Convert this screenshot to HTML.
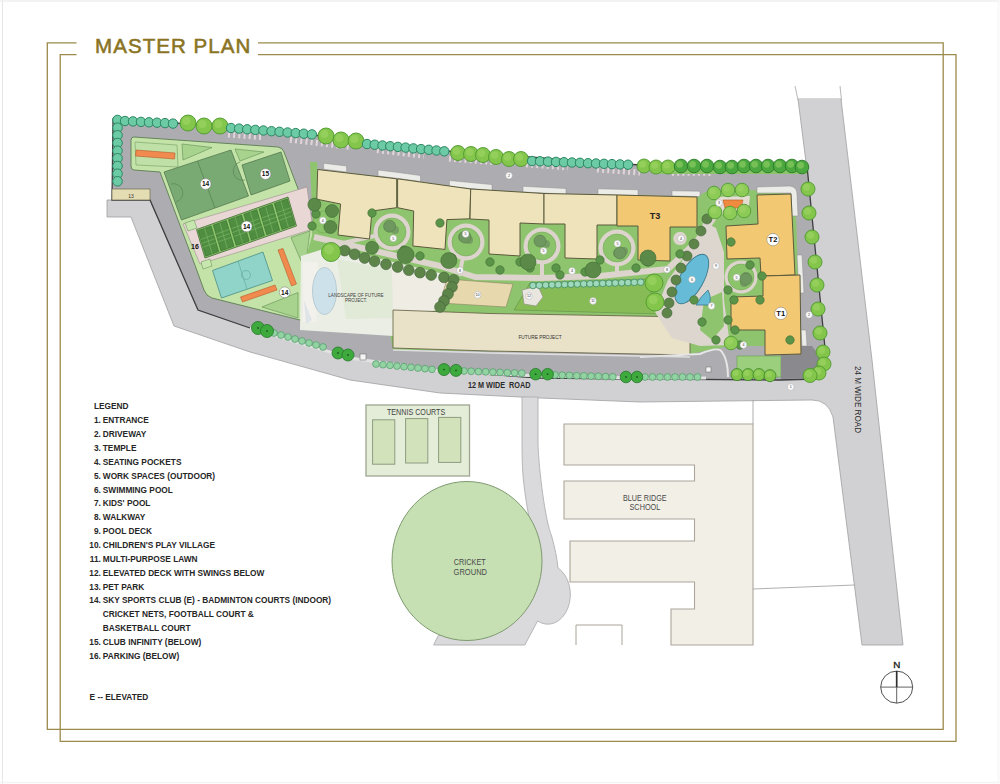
<!DOCTYPE html>
<html><head><meta charset="utf-8">
<style>
html,body{margin:0;padding:0;background:#fff;}
body{width:1000px;height:784px;overflow:hidden;position:relative;font-family:"Liberation Sans",sans-serif;}
svg{position:absolute;left:0;top:0;}
.lg{position:absolute;left:0;top:0;font-size:8.4px;font-weight:bold;color:#262626;line-height:13.8px;white-space:nowrap;}
.lg div{position:absolute;}
</style></head><body>
<svg width="1000" height="784" viewBox="0 0 1000 784" font-family="Liberation Sans, sans-serif">
<!-- page edge -->
<line x1="2.5" y1="0" x2="2.5" y2="784" stroke="#e6e6e6" stroke-width="1"/>
<line x1="0" y1="1" x2="1000" y2="1" stroke="#efefef" stroke-width="1.5"/>
<line x1="0" y1="782.5" x2="1000" y2="782.5" stroke="#f4f4f4" stroke-width="1.5"/>
<line x1="998.5" y1="0" x2="998.5" y2="784" stroke="#f8f8f8" stroke-width="2"/>
<!-- frame -->
<g fill="none" stroke="#9c8a4c" stroke-width="1.3">
<polyline points="76.5,42.8 47.3,42.8 47.3,729.3 943.2,729.3 943.2,42.8 258,42.8"/>
<polyline points="76.5,54.6 60.2,54.6 60.2,741.3 956,741.3 956,54.6 258,54.6"/>
</g>
<text x="95.1" y="52.7" fill="#8a7424" stroke="#8a7424" stroke-width="0.55" font-size="20.5" letter-spacing="1.05">MASTER PLAN</text>

<!-- ROADS -->
<g id="roads">
<!-- 24M road top cut lines -->
<line x1="795" y1="86" x2="798" y2="100" stroke="#b8b8ba" stroke-width="1"/>
<line x1="840" y1="86" x2="841.5" y2="100" stroke="#b8b8ba" stroke-width="1"/>
<path id="lroad" fill="#d1d1d3" stroke="#a0a0a2" stroke-width="0.8" d="M107,200 L150,200 L198,310 L250,328 L350,358 L440,371 L540,378 L640,379 L780,380 L820,378 L806,162 L798,99 L841,99 L872,360 L903,645 L862,645 L833,417 Q828,400 812,400 L640,402 L540,398 L440,393 L350,380 L250,352 L174,326 L131,217 L107,217 Z"/>
<line x1="798.6" y1="99.4" x2="840.6" y2="99.4" stroke="#d1d1d3" stroke-width="1.2"/>
<!-- lower road to school -->
<path fill="#dadadc" stroke="#b0b0b2" stroke-width="0.9" d="M522,397 L538,397 L538,445 C539,470 545,520 551.6,536 C555,548 557,558 558,568 A20.5,27 0 1 1 537.6,621 L524.8,645 L433.6,645 L438,636 L480,610 L520,590 C530,580 536,572 540,564 C536,548 528,520 524,485 C522,470 522,450 522,440 Z"/>
</g>


<g id="site">
<!-- base driveway -->
<path fill="#acacb1" stroke="#3e3e40" stroke-width="1.3" d="M113,119 L182,123.5 L280,131 L452,151.5 L640,165 L807,166 L825,348 L825,365 L816,379 L780,380 L640,379 L540,378 L440,371 L350,358 L250,328 L198,310 L150,200 L112,200 Z"/>
<!-- pet park 13 -->
<rect x="112" y="189" width="38" height="11" fill="#e4dcb2" stroke="#6d6a50" stroke-width="0.7"/>
<text x="131" y="197.5" text-anchor="middle" font-size="5" fill="#333">13</text>

<!-- SPORTS PLOT -->
<path fill="#c3e3a8" stroke="#5d7d52" stroke-width="0.9" d="M134,137 L278,147 Q283,148 284,152 L313,228 L315,316 Q315,323 308,322 L212,298 Q206,296 204,290 L196,268 L160,172 L134,170 Q131,170 131,166 L131,140 Q131,137 134,137 Z"/>
<!-- cricket nets box -->
<path fill="#bfe0a6" stroke="#7fa86f" stroke-width="0.7" d="M135,142 L177,145 L178,167 L136,165 Z"/>
<path fill="#f08a4e" stroke="#b85a2a" stroke-width="0.6" d="M136,150 L175,153 L174.5,159 L135.5,156 Z"/>
<!-- triangles -->
<path fill="#a7d38e" stroke="#6f9a5c" stroke-width="0.7" d="M182,144 L212,147.5 L183,160 Z"/>
<path fill="#a7d38e" stroke="#6f9a5c" stroke-width="0.7" d="M235,149 L264,152 L240,161 Z"/>
<!-- football field -->
<path fill="#79aa74" stroke="#557a4e" stroke-width="0.8" d="M164,172 L231,150 L248.5,196 L181.5,220 Z"/>
<path fill="none" stroke="#4f7748" stroke-width="0.6" d="M197.5,161 L215,208"/><path fill="none" stroke="#557d4e" stroke-width="0.6" d="M171,184 A7.5,7.5 0 0 1 176,202 M240,162 A7.5,7.5 0 0 0 245,180"/>
<!-- club infinity 15 -->
<path fill="#79aa74" stroke="#557a4e" stroke-width="0.8" d="M242,165 L281,152 L290,181 L251,195 Z"/>
<!-- parking strip 16 -->
<path fill="#e9d7d6" stroke="#9d8f8f" stroke-width="0.6" d="M183,224 L307,187 L313,229 L200,264 Z"/>
<!-- badminton courts -->
<path fill="#8dc86c" stroke="#3d6a31" stroke-width="0.8" d="M196.5,229.5 L288,197 L296.5,226 L205,258 Z"/>
<path fill="#4f8e41" stroke="#2f5e28" stroke-width="0.5" d="M198.0,230.5 L211.1,225.9 L218.7,251.6 L205.7,256.2 Z"/>
<line x1="200.7" y1="239.5" x2="213.8" y2="234.9" stroke="#7fb86a" stroke-width="0.6"/>
<line x1="201.8" y1="243.4" x2="214.9" y2="238.8" stroke="#7fb86a" stroke-width="0.6"/>
<line x1="203.0" y1="247.2" x2="216.0" y2="242.6" stroke="#7fb86a" stroke-width="0.6"/>
<line x1="204.6" y1="228.2" x2="212.2" y2="253.9" stroke="#7fb86a" stroke-width="0.6"/>
<path fill="#4f8e41" stroke="#2f5e28" stroke-width="0.5" d="M213.3,225.1 L226.3,220.5 L234.0,246.3 L220.9,250.9 Z"/>
<line x1="216.0" y1="234.1" x2="229.0" y2="229.5" stroke="#7fb86a" stroke-width="0.6"/>
<line x1="217.1" y1="238.0" x2="230.2" y2="233.4" stroke="#7fb86a" stroke-width="0.6"/>
<line x1="218.2" y1="241.8" x2="231.3" y2="237.3" stroke="#7fb86a" stroke-width="0.6"/>
<line x1="219.8" y1="222.8" x2="227.4" y2="248.6" stroke="#7fb86a" stroke-width="0.6"/>
<path fill="#4f8e41" stroke="#2f5e28" stroke-width="0.5" d="M228.5,219.7 L241.6,215.1 L249.2,240.9 L236.2,245.5 Z"/>
<line x1="231.2" y1="228.7" x2="244.3" y2="224.1" stroke="#7fb86a" stroke-width="0.6"/>
<line x1="232.3" y1="232.6" x2="245.4" y2="228.0" stroke="#7fb86a" stroke-width="0.6"/>
<line x1="233.5" y1="236.5" x2="246.5" y2="231.9" stroke="#7fb86a" stroke-width="0.6"/>
<line x1="235.1" y1="217.4" x2="242.7" y2="243.2" stroke="#7fb86a" stroke-width="0.6"/>
<path fill="#4f8e41" stroke="#2f5e28" stroke-width="0.5" d="M243.8,214.3 L256.8,209.7 L264.5,235.6 L251.4,240.2 Z"/>
<line x1="246.5" y1="223.4" x2="259.5" y2="218.7" stroke="#7fb86a" stroke-width="0.6"/>
<line x1="247.6" y1="227.2" x2="260.7" y2="222.6" stroke="#7fb86a" stroke-width="0.6"/>
<line x1="248.7" y1="231.1" x2="261.8" y2="226.5" stroke="#7fb86a" stroke-width="0.6"/>
<line x1="250.3" y1="212.0" x2="257.9" y2="237.9" stroke="#7fb86a" stroke-width="0.6"/>
<path fill="#4f8e41" stroke="#2f5e28" stroke-width="0.5" d="M259.0,208.9 L272.1,204.3 L279.7,230.3 L266.7,234.8 Z"/>
<line x1="261.7" y1="218.0" x2="274.8" y2="213.4" stroke="#7fb86a" stroke-width="0.6"/>
<line x1="262.8" y1="221.9" x2="275.9" y2="217.3" stroke="#7fb86a" stroke-width="0.6"/>
<line x1="264.0" y1="225.8" x2="277.0" y2="221.2" stroke="#7fb86a" stroke-width="0.6"/>
<line x1="265.6" y1="206.6" x2="273.2" y2="232.6" stroke="#7fb86a" stroke-width="0.6"/>
<path fill="#4f8e41" stroke="#2f5e28" stroke-width="0.5" d="M274.3,203.5 L287.3,198.8 L295.0,224.9 L281.9,229.5 Z"/>
<line x1="277.0" y1="212.6" x2="290.0" y2="208.0" stroke="#7fb86a" stroke-width="0.6"/>
<line x1="278.1" y1="216.5" x2="291.2" y2="211.9" stroke="#7fb86a" stroke-width="0.6"/>
<line x1="279.2" y1="220.4" x2="292.3" y2="215.8" stroke="#7fb86a" stroke-width="0.6"/>
<line x1="280.8" y1="201.2" x2="288.4" y2="227.2" stroke="#7fb86a" stroke-width="0.6"/>
<!-- basketball -->
<path fill="#8fd3c9" stroke="#4c8f86" stroke-width="0.8" d="M212.5,270.5 L263,252 L272.5,280.5 L221.5,298 Z"/>
<path fill="none" stroke="#5fa69c" stroke-width="0.6" d="M238,261 L247,289 M246,275 m-4.5,0 a4.5,4.5 0 1,0 9,0 a4.5,4.5 0 1,0 -9,0"/>
<!-- orange bars -->
<path fill="#f08a4e" stroke="#b85a2a" stroke-width="0.6" d="M278,250 L283,248.5 L296.5,284 L291.5,286 Z"/>
<path fill="#f08a4e" stroke="#b85a2a" stroke-width="0.6" d="M240.5,297 L275,285 L277,290 L242.5,302 Z"/>
<!-- bottom triangles -->
<path fill="#a7d38e" stroke="#6f9a5c" stroke-width="0.7" d="M291,237.5 L310,231 L305,270 Z"/>
<path fill="#a7d38e" stroke="#6f9a5c" stroke-width="0.7" d="M262,307 L298,292.5 L298,318 Z"/>
<path fill="#c8e6b0" stroke="#6f9a5c" stroke-width="0.6" d="M185,223 L194,220 L197,228 L188,231 Z M201,262 L210,259 L212,266 L203,269 Z"/>

<!-- RESIDENTIAL INTERIOR -->
<path fill="#8fc46f" d="M310,162 L317,162 L317.7,169.5 L396.7,178.8 L470.7,189 L544,193.5 L617,195 L697,197 L705,192 L752,190 L790,194 L796,216 L801,346 L730,346 L690,354 L393,350 L390,334 L300,324 L307,254 L313,232 Z"/>
<!-- building front white strips -->
<g fill="#ebebe8" stroke="#8f8f8f" stroke-width="0.5">
<path d="M323.6,163.2 L346.6,166 L346.6,172 L323.6,169.2 Z"/>
<path d="M378,170 L396.7,172.3 L420.5,175.5 L420.5,181.5 L396.7,178.3 L378,176 Z"/>
<path d="M449.4,180.5 L492,184.6 L492,190.6 L449.4,186.5 Z"/>
<path d="M523,186.3 L566,188.5 L566,194.2 L523,192 Z"/>
<path d="M598,188.8 L638,189.8 L638,195.5 L598,194.5 Z"/>
<path d="M672,190.8 L700,191.2 L700,196.5 L672,196 Z"/>
<path d="M757,187 L790,186 Q797,187 797,194 L798,216 L792,216 L791,193 L757,193 Z"/>
<path d="M797,255 L802,255 L804,293 L799,293 Z"/>
<path d="M801,330 L806,330 L807,346 L802,346 Z"/>
</g>
<!-- landscape of future project -->
<path fill="#ebeee5" d="M301,256 L330,247 L452,276 L438,310 L393,318 L393,336 L300,330 Z"/><path fill="#e1e9d7" d="M337,259 L392,270 L394,318 L346,319 Z"/>
<path fill="#eeece3" d="M392,270 L448,282 L436,309 L393,313 Z"/>
<path fill="#f3f1ec" d="M303,262 L318,262 L316,322 L303,322 Z"/>
<ellipse cx="324.5" cy="291" rx="12" ry="23.5" fill="#cde1ea" stroke="#b3c7cf" stroke-width="0.9"/>
<path fill="#dfe4e8" d="M304,300 L312,320 L306,324 Z"/>
<text x="356" y="297" text-anchor="middle" font-size="4.6" fill="#444">LANDSCAPE OF FUTURE</text>
<text x="356" y="302" text-anchor="middle" font-size="4.6" fill="#444">PROJECT.</text>
<!-- walkway -->
<path fill="none" stroke="#ddd5cd" stroke-width="6" stroke-linejoin="round" d="M314,237 L440,266 L475,277 L540,278 L600,276 L668,269 L700,238 L716,214"/>
<path fill="none" stroke="#ddd5cd" stroke-width="4" d="M330,246 L392,232 M461,276 Q460,262 466,252 M542,277 L542,246 M617,272 L617,248"/>
<!-- play village 10 -->
<path fill="#e7d9ad" stroke="#8c8464" stroke-width="0.6" d="M447,279 L513,284 L506,307 L440,303 Z"/>
<text x="478" y="297" text-anchor="middle" font-size="4.5" fill="#555">10</text>
<!-- lawn 11 -->
<path fill="#87bb55" stroke="#5f8f44" stroke-width="0.6" d="M530,283 L646,279 L660,314 L514,310 Z"/>
<!-- elevated deck 12 -->
<path fill="#e9e6df" stroke="#8a8a80" stroke-width="0.6" d="M522,290 L538,286 L543,297 L536,306 L524,304 Z"/>
<!-- future project -->
<path fill="#e9e1c8" stroke="#5e5a3e" stroke-width="0.8" d="M393,310 L490,313.5 L690,317 L690,355 L490,351 L393,348 Z"/>
<text x="540" y="338.5" text-anchor="middle" font-size="4.8" fill="#333">FUTURE PROJECT</text>

<!-- workspaces circles -->
<g fill="#ddd5cd">
<circle cx="392" cy="232" r="18.5"/>
<circle cx="466" cy="242" r="18.5"/>
<circle cx="542" cy="246" r="18.5"/>
<circle cx="617" cy="248" r="18.5"/>
<circle cx="741" cy="277" r="16.5"/>
</g>
<g fill="#8cc46c" stroke="#6aa24e" stroke-width="0.5">
<circle cx="392" cy="232" r="14"/>
<circle cx="466" cy="242" r="14"/>
<circle cx="542" cy="246" r="14"/>
<circle cx="617" cy="248" r="14"/>
<circle cx="741" cy="277" r="13"/>
<circle cx="324" cy="222" r="11"/>
</g>
<g fill="#6b8f5e" opacity="0.7">
<circle cx="389" cy="227" r="5"/><circle cx="395" cy="230" r="4"/>
<circle cx="463" cy="237" r="5"/><circle cx="469" cy="240" r="4"/>
<circle cx="540" cy="241" r="5"/><circle cx="546" cy="244" r="4"/>
<circle cx="618" cy="253" r="5"/><circle cx="624" cy="251" r="4"/>
<circle cx="746" cy="277" r="5"/><circle cx="744" cy="283" r="4"/>
</g>

<!-- pool deck area -->
<path fill="#dcd6ce" d="M655,312 L668,280 L690,250 L704,222 L716,228 L724,252 L724,300 L730,345 L700,346 L672,338 Z"/>
<path fill="#8fc46f" d="M704,300 L722,292 L724,326 L712,340 L700,330 Z"/>
<ellipse cx="691.8" cy="279" rx="11.8" ry="27.5" transform="rotate(29 691.8 279)" fill="#66bcd6" stroke="#3b7a8e" stroke-width="0.9"/>
<path fill="#66bcd6" stroke="#3b7a8e" stroke-width="0.8" d="M708,290 Q712,298 709,305 L696,305 Q701,296 708,290 Z"/>
<!-- temple -->
<path fill="#e3ddd2" d="M716,197 L750,196 L748,214 L718,214 Z"/><circle cx="680" cy="238.4" r="6.7" fill="#ddd5cd"/>
<path fill="#f08a3e" stroke="#b45a24" stroke-width="0.6" d="M723,200 L743,200 L741,208 L725,208 Z"/>
<!-- bottom right lawn / entrance -->
<path fill="#9bcf7d" stroke="#6aa24e" stroke-width="0.6" d="M737,356 L781,356 L781,377 L737,377 Z"/>
<path fill="#8a8a8e" d="M781,346 L812,346 L822,360 L818,378 L781,379 Z"/>
<path fill="none" stroke="#e6e6e6" stroke-width="2" d="M640,357 L700,354 Q719,346 722,352 Q728,360 728,377"/>

<!-- BUILDINGS -->
<g fill="#efe3bc" stroke="#5b5a3b" stroke-width="1">
<path d="M317.7,169.5 L396.7,178.8 L396.7,207.7 L372,211 L369.5,239 L338,235 L340.6,204 L316.8,199.2 Z"/>
<path d="M397.6,178.8 L470.7,189 L469.8,218.8 L446.9,219.6 L445,249.4 L412.9,246 L413.7,211 L397.6,207.7 Z"/>
<path d="M470.7,189 L544,193.5 L544,224 L520,223 L520,256 L489,254 L489,220 L470,219 Z"/>
<path d="M544,193.5 L617,195 L617,225 L597,225 L597,259 L565,258 L565,224 L544,224 Z"/>
</g>
<g fill="#f2c873" stroke="#5b5a3b" stroke-width="1">
<path d="M617,195 L697,197 L697,227 L670,227 L670,261 L638,260 L638,226 L617,226 Z"/>
<path d="M757,195 L791,194 L795,275 L761,276 L760,258 L727,259 L726,226 L758,224 Z"/>
<path d="M763,276 L800,275 L801,354 L765,355 L765,330 L731,330 L731,297 L763,296 Z"/>
</g>
<g font-size="9" font-weight="bold" fill="#222" text-anchor="middle">
<text x="655" y="219">T3</text>
</g>
<path d="M228,134.5 L262,137.1" stroke="#e2d5d9" stroke-width="6" stroke-dasharray="2 3.2"/>
<path d="M290,139.7 L350,146.8" stroke="#e2d5d9" stroke-width="6" stroke-dasharray="2 3.2"/>
<path d="M377,150.1 L424,155.7" stroke="#e2d5d9" stroke-width="6" stroke-dasharray="2 3.2"/>
<path d="M449,158.6 L496,162.2" stroke="#e2d5d9" stroke-width="6" stroke-dasharray="2 3.2"/>
<path d="M526,164.3 L568,167.3" stroke="#e2d5d9" stroke-width="6" stroke-dasharray="2 3.2"/>
<path d="M597,169.4 L640,172.5" stroke="#e2d5d9" stroke-width="6" stroke-dasharray="2 3.2"/>
<path d="M672,172.7 L712,172.9" stroke="#e2d5d9" stroke-width="6" stroke-dasharray="2 3.2"/>
<path d="M660,169 L807,170 L807,174 L660,174 Z" fill="#8cc46a"/>
<circle cx="117.5" cy="120.0" r="4.8" fill="#6ccba5" stroke="#2a8762" stroke-width="1.0"/>
<circle cx="117.5" cy="127.7" r="4.8" fill="#6ccba5" stroke="#2a8762" stroke-width="1.0"/>
<circle cx="117.5" cy="135.3" r="4.8" fill="#6ccba5" stroke="#2a8762" stroke-width="1.0"/>
<circle cx="117.5" cy="143.0" r="4.8" fill="#6ccba5" stroke="#2a8762" stroke-width="1.0"/>
<circle cx="117.5" cy="150.7" r="4.8" fill="#6ccba5" stroke="#2a8762" stroke-width="1.0"/>
<circle cx="117.5" cy="158.3" r="4.8" fill="#6ccba5" stroke="#2a8762" stroke-width="1.0"/>
<circle cx="117.5" cy="166.0" r="4.8" fill="#6ccba5" stroke="#2a8762" stroke-width="1.0"/>
<circle cx="117.5" cy="173.7" r="4.8" fill="#6ccba5" stroke="#2a8762" stroke-width="1.0"/>
<circle cx="117.5" cy="181.3" r="4.8" fill="#6ccba5" stroke="#2a8762" stroke-width="1.0"/>
<circle cx="125.0" cy="121.0" r="4.7" fill="#6ccba5" stroke="#2a8762" stroke-width="1.0"/>
<circle cx="133.0" cy="121.4" r="4.7" fill="#6ccba5" stroke="#2a8762" stroke-width="1.0"/>
<circle cx="141.0" cy="121.9" r="4.7" fill="#6ccba5" stroke="#2a8762" stroke-width="1.0"/>
<circle cx="149.0" cy="122.3" r="4.7" fill="#6ccba5" stroke="#2a8762" stroke-width="1.0"/>
<circle cx="157.0" cy="122.7" r="4.7" fill="#6ccba5" stroke="#2a8762" stroke-width="1.0"/>
<circle cx="165.0" cy="123.1" r="4.7" fill="#6ccba5" stroke="#2a8762" stroke-width="1.0"/>
<circle cx="173.0" cy="123.6" r="4.7" fill="#6ccba5" stroke="#2a8762" stroke-width="1.0"/>
<circle cx="188" cy="123" r="8" fill="#84c64c" stroke="#4e9a2e" stroke-width="0.9"/><circle cx="186.4" cy="121.0" r="4.0" fill="#a3d86c" opacity="0.5"/>
<circle cx="204" cy="126" r="8" fill="#84c64c" stroke="#4e9a2e" stroke-width="0.9"/><circle cx="202.4" cy="124.0" r="4.0" fill="#a3d86c" opacity="0.5"/>
<circle cx="220" cy="126" r="8" fill="#84c64c" stroke="#4e9a2e" stroke-width="0.9"/><circle cx="218.4" cy="124.0" r="4.0" fill="#a3d86c" opacity="0.5"/>
<circle cx="231.0" cy="128.0" r="4.7" fill="#6ccba5" stroke="#2a8762" stroke-width="1.0"/>
<circle cx="239.1" cy="128.6" r="4.7" fill="#6ccba5" stroke="#2a8762" stroke-width="1.0"/>
<circle cx="247.2" cy="129.3" r="4.7" fill="#6ccba5" stroke="#2a8762" stroke-width="1.0"/>
<circle cx="255.3" cy="129.9" r="4.7" fill="#6ccba5" stroke="#2a8762" stroke-width="1.0"/>
<circle cx="263.4" cy="130.5" r="4.7" fill="#6ccba5" stroke="#2a8762" stroke-width="1.0"/>
<circle cx="271.5" cy="131.2" r="4.7" fill="#6ccba5" stroke="#2a8762" stroke-width="1.0"/>
<circle cx="279.5" cy="131.8" r="4.7" fill="#6ccba5" stroke="#2a8762" stroke-width="1.0"/>
<circle cx="287.6" cy="132.5" r="4.7" fill="#6ccba5" stroke="#2a8762" stroke-width="1.0"/>
<circle cx="295.7" cy="133.1" r="4.7" fill="#6ccba5" stroke="#2a8762" stroke-width="1.0"/>
<circle cx="303.8" cy="133.7" r="4.7" fill="#6ccba5" stroke="#2a8762" stroke-width="1.0"/>
<circle cx="311.9" cy="134.4" r="4.7" fill="#6ccba5" stroke="#2a8762" stroke-width="1.0"/>
<circle cx="326" cy="136" r="8" fill="#84c64c" stroke="#4e9a2e" stroke-width="0.9"/><circle cx="324.4" cy="134.0" r="4.0" fill="#a3d86c" opacity="0.5"/>
<circle cx="341" cy="140" r="8" fill="#84c64c" stroke="#4e9a2e" stroke-width="0.9"/><circle cx="339.4" cy="138.0" r="4.0" fill="#a3d86c" opacity="0.5"/>
<circle cx="356" cy="141" r="8" fill="#84c64c" stroke="#4e9a2e" stroke-width="0.9"/><circle cx="354.4" cy="139.0" r="4.0" fill="#a3d86c" opacity="0.5"/>
<circle cx="367.0" cy="144.0" r="4.7" fill="#6ccba5" stroke="#2a8762" stroke-width="1.0"/>
<circle cx="374.7" cy="144.7" r="4.7" fill="#6ccba5" stroke="#2a8762" stroke-width="1.0"/>
<circle cx="382.5" cy="145.5" r="4.7" fill="#6ccba5" stroke="#2a8762" stroke-width="1.0"/>
<circle cx="390.2" cy="146.2" r="4.7" fill="#6ccba5" stroke="#2a8762" stroke-width="1.0"/>
<circle cx="397.9" cy="146.9" r="4.7" fill="#6ccba5" stroke="#2a8762" stroke-width="1.0"/>
<circle cx="405.6" cy="147.6" r="4.7" fill="#6ccba5" stroke="#2a8762" stroke-width="1.0"/>
<circle cx="413.4" cy="148.4" r="4.7" fill="#6ccba5" stroke="#2a8762" stroke-width="1.0"/>
<circle cx="421.1" cy="149.1" r="4.7" fill="#6ccba5" stroke="#2a8762" stroke-width="1.0"/>
<circle cx="428.8" cy="149.8" r="4.7" fill="#6ccba5" stroke="#2a8762" stroke-width="1.0"/>
<circle cx="436.5" cy="150.5" r="4.7" fill="#6ccba5" stroke="#2a8762" stroke-width="1.0"/>
<circle cx="444.3" cy="151.3" r="4.7" fill="#6ccba5" stroke="#2a8762" stroke-width="1.0"/>
<circle cx="458" cy="153" r="7.5" fill="#84c64c" stroke="#4e9a2e" stroke-width="0.9"/><circle cx="456.5" cy="151.1" r="3.8" fill="#a3d86c" opacity="0.5"/>
<circle cx="471" cy="154" r="7.5" fill="#84c64c" stroke="#4e9a2e" stroke-width="0.9"/><circle cx="469.5" cy="152.1" r="3.8" fill="#a3d86c" opacity="0.5"/>
<circle cx="483" cy="155" r="7.5" fill="#84c64c" stroke="#4e9a2e" stroke-width="0.9"/><circle cx="481.5" cy="153.1" r="3.8" fill="#a3d86c" opacity="0.5"/>
<circle cx="496" cy="157" r="7.5" fill="#84c64c" stroke="#4e9a2e" stroke-width="0.9"/><circle cx="494.5" cy="155.1" r="3.8" fill="#a3d86c" opacity="0.5"/>
<circle cx="509" cy="159" r="7.5" fill="#84c64c" stroke="#4e9a2e" stroke-width="0.9"/><circle cx="507.5" cy="157.1" r="3.8" fill="#a3d86c" opacity="0.5"/>
<circle cx="521" cy="159" r="7.5" fill="#84c64c" stroke="#4e9a2e" stroke-width="0.9"/><circle cx="519.5" cy="157.1" r="3.8" fill="#a3d86c" opacity="0.5"/>
<circle cx="532.0" cy="161.0" r="4.7" fill="#6ccba5" stroke="#2a8762" stroke-width="1.0"/>
<circle cx="540.0" cy="161.3" r="4.7" fill="#6ccba5" stroke="#2a8762" stroke-width="1.0"/>
<circle cx="548.0" cy="161.6" r="4.7" fill="#6ccba5" stroke="#2a8762" stroke-width="1.0"/>
<circle cx="556.0" cy="161.9" r="4.7" fill="#6ccba5" stroke="#2a8762" stroke-width="1.0"/>
<circle cx="564.0" cy="162.2" r="4.7" fill="#6ccba5" stroke="#2a8762" stroke-width="1.0"/>
<circle cx="572.0" cy="162.5" r="4.7" fill="#6ccba5" stroke="#2a8762" stroke-width="1.0"/>
<circle cx="580.0" cy="162.8" r="4.7" fill="#6ccba5" stroke="#2a8762" stroke-width="1.0"/>
<circle cx="588.0" cy="163.2" r="4.7" fill="#6ccba5" stroke="#2a8762" stroke-width="1.0"/>
<circle cx="596.0" cy="163.5" r="4.7" fill="#6ccba5" stroke="#2a8762" stroke-width="1.0"/>
<circle cx="604.0" cy="163.8" r="4.7" fill="#6ccba5" stroke="#2a8762" stroke-width="1.0"/>
<circle cx="612.0" cy="164.1" r="4.7" fill="#6ccba5" stroke="#2a8762" stroke-width="1.0"/>
<circle cx="620.0" cy="164.4" r="4.7" fill="#6ccba5" stroke="#2a8762" stroke-width="1.0"/>
<circle cx="628.0" cy="164.7" r="4.7" fill="#6ccba5" stroke="#2a8762" stroke-width="1.0"/>
<circle cx="644" cy="166" r="7" fill="#84c64c" stroke="#4e9a2e" stroke-width="0.9"/><circle cx="642.6" cy="164.2" r="3.5" fill="#a3d86c" opacity="0.5"/>
<circle cx="656" cy="167" r="7" fill="#84c64c" stroke="#4e9a2e" stroke-width="0.9"/><circle cx="654.6" cy="165.2" r="3.5" fill="#a3d86c" opacity="0.5"/>
<circle cx="668" cy="167" r="7" fill="#84c64c" stroke="#4e9a2e" stroke-width="0.9"/><circle cx="666.6" cy="165.2" r="3.5" fill="#a3d86c" opacity="0.5"/>
<circle cx="681" cy="166" r="6.8" fill="#4aa83e" stroke="#2b7a2a" stroke-width="0.9"/><circle cx="679.6" cy="164.3" r="3.4" fill="#a3d86c" opacity="0.5"/>
<circle cx="694" cy="166" r="6.8" fill="#4aa83e" stroke="#2b7a2a" stroke-width="0.9"/><circle cx="692.6" cy="164.3" r="3.4" fill="#a3d86c" opacity="0.5"/>
<circle cx="707" cy="166" r="6.8" fill="#4aa83e" stroke="#2b7a2a" stroke-width="0.9"/><circle cx="705.6" cy="164.3" r="3.4" fill="#a3d86c" opacity="0.5"/>
<circle cx="720" cy="167" r="6.8" fill="#4aa83e" stroke="#2b7a2a" stroke-width="0.9"/><circle cx="718.6" cy="165.3" r="3.4" fill="#a3d86c" opacity="0.5"/>
<circle cx="732" cy="167" r="6.8" fill="#4aa83e" stroke="#2b7a2a" stroke-width="0.9"/><circle cx="730.6" cy="165.3" r="3.4" fill="#a3d86c" opacity="0.5"/>
<circle cx="744" cy="166" r="6.8" fill="#4aa83e" stroke="#2b7a2a" stroke-width="0.9"/><circle cx="742.6" cy="164.3" r="3.4" fill="#a3d86c" opacity="0.5"/>
<circle cx="756" cy="166" r="6.8" fill="#4aa83e" stroke="#2b7a2a" stroke-width="0.9"/><circle cx="754.6" cy="164.3" r="3.4" fill="#a3d86c" opacity="0.5"/>
<circle cx="768" cy="166" r="6.8" fill="#4aa83e" stroke="#2b7a2a" stroke-width="0.9"/><circle cx="766.6" cy="164.3" r="3.4" fill="#a3d86c" opacity="0.5"/>
<circle cx="780" cy="166" r="6.8" fill="#4aa83e" stroke="#2b7a2a" stroke-width="0.9"/><circle cx="778.6" cy="164.3" r="3.4" fill="#a3d86c" opacity="0.5"/>
<circle cx="792" cy="166" r="6.8" fill="#4aa83e" stroke="#2b7a2a" stroke-width="0.9"/><circle cx="790.6" cy="164.3" r="3.4" fill="#a3d86c" opacity="0.5"/>
<circle cx="802" cy="167" r="6.8" fill="#4aa83e" stroke="#2b7a2a" stroke-width="0.9"/><circle cx="800.6" cy="165.3" r="3.4" fill="#a3d86c" opacity="0.5"/>
<circle cx="808" cy="189" r="7" fill="#84c64c" stroke="#4e9a2e" stroke-width="0.9"/><circle cx="806.6" cy="187.2" r="3.5" fill="#a3d86c" opacity="0.5"/>
<circle cx="809" cy="213" r="7" fill="#84c64c" stroke="#4e9a2e" stroke-width="0.9"/><circle cx="807.6" cy="211.2" r="3.5" fill="#a3d86c" opacity="0.5"/>
<circle cx="812" cy="237" r="7" fill="#84c64c" stroke="#4e9a2e" stroke-width="0.9"/><circle cx="810.6" cy="235.2" r="3.5" fill="#a3d86c" opacity="0.5"/>
<circle cx="815" cy="262" r="7" fill="#84c64c" stroke="#4e9a2e" stroke-width="0.9"/><circle cx="813.6" cy="260.2" r="3.5" fill="#a3d86c" opacity="0.5"/>
<circle cx="817" cy="285" r="7" fill="#84c64c" stroke="#4e9a2e" stroke-width="0.9"/><circle cx="815.6" cy="283.2" r="3.5" fill="#a3d86c" opacity="0.5"/>
<circle cx="818" cy="309" r="7" fill="#84c64c" stroke="#4e9a2e" stroke-width="0.9"/><circle cx="816.6" cy="307.2" r="3.5" fill="#a3d86c" opacity="0.5"/>
<circle cx="820" cy="333" r="7" fill="#84c64c" stroke="#4e9a2e" stroke-width="0.9"/><circle cx="818.6" cy="331.2" r="3.5" fill="#a3d86c" opacity="0.5"/>
<circle cx="823" cy="352" r="7" fill="#84c64c" stroke="#4e9a2e" stroke-width="0.9"/><circle cx="821.6" cy="350.2" r="3.5" fill="#a3d86c" opacity="0.5"/>
<circle cx="824" cy="364" r="7" fill="#84c64c" stroke="#4e9a2e" stroke-width="0.9"/><circle cx="822.6" cy="362.2" r="3.5" fill="#a3d86c" opacity="0.5"/>
<circle cx="819" cy="373" r="7" fill="#84c64c" stroke="#4e9a2e" stroke-width="0.9"/><circle cx="817.6" cy="371.2" r="3.5" fill="#a3d86c" opacity="0.5"/>
<circle cx="810" cy="375.5" r="7" fill="#84c64c" stroke="#4e9a2e" stroke-width="0.9"/><circle cx="808.6" cy="373.8" r="3.5" fill="#a3d86c" opacity="0.5"/>
<path d="M250,328 L350,358 L440,371 L540,376 L640,378 L706,378" fill="none" stroke="#e2e2e2" stroke-width="3"/>
<path d="M393,350 L490,353 L690,357" fill="none" stroke="#dededf" stroke-width="1.6"/>
<circle cx="274.0" cy="333.0" r="3.4" fill="#93d3a3" stroke="#4f9a66" stroke-width="0.7"/>
<circle cx="281.0" cy="335.0" r="3.4" fill="#93d3a3" stroke="#4f9a66" stroke-width="0.7"/>
<circle cx="288.0" cy="337.0" r="3.4" fill="#93d3a3" stroke="#4f9a66" stroke-width="0.7"/>
<circle cx="295.0" cy="339.0" r="3.4" fill="#93d3a3" stroke="#4f9a66" stroke-width="0.7"/>
<circle cx="302.0" cy="341.0" r="3.4" fill="#93d3a3" stroke="#4f9a66" stroke-width="0.7"/>
<circle cx="309.0" cy="343.0" r="3.4" fill="#93d3a3" stroke="#4f9a66" stroke-width="0.7"/>
<circle cx="316.0" cy="345.0" r="3.4" fill="#93d3a3" stroke="#4f9a66" stroke-width="0.7"/>
<circle cx="323.0" cy="347.0" r="3.4" fill="#93d3a3" stroke="#4f9a66" stroke-width="0.7"/>
<circle cx="376.0" cy="364.0" r="3.4" fill="#93d3a3" stroke="#4f9a66" stroke-width="0.7"/>
<circle cx="383.0" cy="364.7" r="3.4" fill="#93d3a3" stroke="#4f9a66" stroke-width="0.7"/>
<circle cx="390.0" cy="365.3" r="3.4" fill="#93d3a3" stroke="#4f9a66" stroke-width="0.7"/>
<circle cx="397.0" cy="366.0" r="3.4" fill="#93d3a3" stroke="#4f9a66" stroke-width="0.7"/>
<circle cx="404.0" cy="366.7" r="3.4" fill="#93d3a3" stroke="#4f9a66" stroke-width="0.7"/>
<circle cx="411.0" cy="367.3" r="3.4" fill="#93d3a3" stroke="#4f9a66" stroke-width="0.7"/>
<circle cx="418.0" cy="368.0" r="3.4" fill="#93d3a3" stroke="#4f9a66" stroke-width="0.7"/>
<circle cx="425.0" cy="368.7" r="3.4" fill="#93d3a3" stroke="#4f9a66" stroke-width="0.7"/>
<circle cx="432.0" cy="369.3" r="3.4" fill="#93d3a3" stroke="#4f9a66" stroke-width="0.7"/>
<circle cx="464.0" cy="371.0" r="3.4" fill="#93d3a3" stroke="#4f9a66" stroke-width="0.7"/>
<circle cx="471.2" cy="371.3" r="3.4" fill="#93d3a3" stroke="#4f9a66" stroke-width="0.7"/>
<circle cx="478.4" cy="371.6" r="3.4" fill="#93d3a3" stroke="#4f9a66" stroke-width="0.7"/>
<circle cx="485.7" cy="371.8" r="3.4" fill="#93d3a3" stroke="#4f9a66" stroke-width="0.7"/>
<circle cx="492.9" cy="372.1" r="3.4" fill="#93d3a3" stroke="#4f9a66" stroke-width="0.7"/>
<circle cx="500.1" cy="372.4" r="3.4" fill="#93d3a3" stroke="#4f9a66" stroke-width="0.7"/>
<circle cx="507.3" cy="372.7" r="3.4" fill="#93d3a3" stroke="#4f9a66" stroke-width="0.7"/>
<circle cx="514.6" cy="372.9" r="3.4" fill="#93d3a3" stroke="#4f9a66" stroke-width="0.7"/>
<circle cx="521.8" cy="373.2" r="3.4" fill="#93d3a3" stroke="#4f9a66" stroke-width="0.7"/>
<circle cx="555.0" cy="375.0" r="3.4" fill="#93d3a3" stroke="#4f9a66" stroke-width="0.7"/>
<circle cx="562.2" cy="375.2" r="3.4" fill="#93d3a3" stroke="#4f9a66" stroke-width="0.7"/>
<circle cx="569.4" cy="375.4" r="3.4" fill="#93d3a3" stroke="#4f9a66" stroke-width="0.7"/>
<circle cx="576.7" cy="375.7" r="3.4" fill="#93d3a3" stroke="#4f9a66" stroke-width="0.7"/>
<circle cx="583.9" cy="375.9" r="3.4" fill="#93d3a3" stroke="#4f9a66" stroke-width="0.7"/>
<circle cx="591.1" cy="376.1" r="3.4" fill="#93d3a3" stroke="#4f9a66" stroke-width="0.7"/>
<circle cx="598.3" cy="376.3" r="3.4" fill="#93d3a3" stroke="#4f9a66" stroke-width="0.7"/>
<circle cx="605.6" cy="376.6" r="3.4" fill="#93d3a3" stroke="#4f9a66" stroke-width="0.7"/>
<circle cx="612.8" cy="376.8" r="3.4" fill="#93d3a3" stroke="#4f9a66" stroke-width="0.7"/>
<circle cx="645.0" cy="377.0" r="3.4" fill="#93d3a3" stroke="#4f9a66" stroke-width="0.7"/>
<circle cx="652.5" cy="377.0" r="3.4" fill="#93d3a3" stroke="#4f9a66" stroke-width="0.7"/>
<circle cx="660.0" cy="377.0" r="3.4" fill="#93d3a3" stroke="#4f9a66" stroke-width="0.7"/>
<circle cx="667.5" cy="377.0" r="3.4" fill="#93d3a3" stroke="#4f9a66" stroke-width="0.7"/>
<circle cx="675.0" cy="377.0" r="3.4" fill="#93d3a3" stroke="#4f9a66" stroke-width="0.7"/>
<circle cx="682.5" cy="377.0" r="3.4" fill="#93d3a3" stroke="#4f9a66" stroke-width="0.7"/>
<circle cx="690.0" cy="377.0" r="3.4" fill="#93d3a3" stroke="#4f9a66" stroke-width="0.7"/>
<circle cx="697.5" cy="377.0" r="3.4" fill="#93d3a3" stroke="#4f9a66" stroke-width="0.7"/>
<circle cx="258" cy="328" r="6.5" fill="#3ea93d" stroke="#25782b" stroke-width="0.8"/><circle cx="258" cy="328" r="0.9" fill="#1b5a20"/>
<circle cx="267" cy="331" r="6.5" fill="#3ea93d" stroke="#25782b" stroke-width="0.8"/><circle cx="267" cy="331" r="0.9" fill="#1b5a20"/>
<circle cx="338" cy="353" r="6" fill="#3ea93d" stroke="#25782b" stroke-width="0.8"/><circle cx="338" cy="353" r="0.9" fill="#1b5a20"/>
<circle cx="348" cy="355" r="6" fill="#3ea93d" stroke="#25782b" stroke-width="0.8"/><circle cx="348" cy="355" r="0.9" fill="#1b5a20"/>
<circle cx="444" cy="369.6" r="6" fill="#3ea93d" stroke="#25782b" stroke-width="0.8"/><circle cx="444" cy="369.6" r="0.9" fill="#1b5a20"/>
<circle cx="456" cy="370.4" r="6" fill="#3ea93d" stroke="#25782b" stroke-width="0.8"/><circle cx="456" cy="370.4" r="0.9" fill="#1b5a20"/>
<circle cx="535.6" cy="374.2" r="5.8" fill="#3ea93d" stroke="#25782b" stroke-width="0.8"/><circle cx="535.6" cy="374.2" r="0.9" fill="#1b5a20"/>
<circle cx="547.6" cy="374.2" r="5.8" fill="#3ea93d" stroke="#25782b" stroke-width="0.8"/><circle cx="547.6" cy="374.2" r="0.9" fill="#1b5a20"/>
<circle cx="626" cy="377" r="5.8" fill="#3ea93d" stroke="#25782b" stroke-width="0.8"/><circle cx="626" cy="377" r="0.9" fill="#1b5a20"/>
<circle cx="637" cy="377" r="5.8" fill="#3ea93d" stroke="#25782b" stroke-width="0.8"/><circle cx="637" cy="377" r="0.9" fill="#1b5a20"/>
<rect x="360" y="354" width="6" height="6" fill="#f4f4f4" stroke="#777" stroke-width="0.6"/>
<rect x="706" y="367" width="5" height="5" fill="#f4f4f4" stroke="#777" stroke-width="0.6"/>
<circle cx="737" cy="374.6" r="6" fill="#84c64c" stroke="#3f8a2a" stroke-width="0.9"/><circle cx="735.8" cy="373.1" r="3.0" fill="#a3d86c" opacity="0.5"/>
<circle cx="748" cy="374.6" r="6" fill="#84c64c" stroke="#3f8a2a" stroke-width="0.9"/><circle cx="746.8" cy="373.1" r="3.0" fill="#a3d86c" opacity="0.5"/>
<circle cx="759" cy="374.6" r="6" fill="#84c64c" stroke="#3f8a2a" stroke-width="0.9"/><circle cx="757.8" cy="373.1" r="3.0" fill="#a3d86c" opacity="0.5"/>
<circle cx="770" cy="375.7" r="6" fill="#84c64c" stroke="#3f8a2a" stroke-width="0.9"/><circle cx="768.8" cy="374.2" r="3.0" fill="#a3d86c" opacity="0.5"/>
<circle cx="344.7" cy="250.6" r="5.4" fill="#5d8449" stroke="#41613a" stroke-width="0.6"/>
<circle cx="354.7" cy="254.3" r="5.4" fill="#5d8449" stroke="#41613a" stroke-width="0.6"/>
<circle cx="364.6" cy="258" r="5.4" fill="#5d8449" stroke="#41613a" stroke-width="0.6"/>
<circle cx="374.6" cy="261.3" r="5.4" fill="#5d8449" stroke="#41613a" stroke-width="0.6"/>
<circle cx="386" cy="264.3" r="5.4" fill="#5d8449" stroke="#41613a" stroke-width="0.6"/>
<circle cx="397.6" cy="267" r="5.4" fill="#5d8449" stroke="#41613a" stroke-width="0.6"/>
<circle cx="408.8" cy="270.2" r="5.4" fill="#5d8449" stroke="#41613a" stroke-width="0.6"/>
<circle cx="420" cy="272.6" r="5.4" fill="#5d8449" stroke="#41613a" stroke-width="0.6"/>
<circle cx="431.2" cy="275" r="5.4" fill="#5d8449" stroke="#41613a" stroke-width="0.6"/>
<circle cx="444" cy="277.4" r="5.4" fill="#5d8449" stroke="#41613a" stroke-width="0.6"/>
<circle cx="453.6" cy="279.8" r="5.4" fill="#5d8449" stroke="#41613a" stroke-width="0.6"/>
<circle cx="452" cy="287" r="5.4" fill="#5d8449" stroke="#41613a" stroke-width="0.6"/>
<circle cx="448" cy="294" r="5.4" fill="#5d8449" stroke="#41613a" stroke-width="0.6"/>
<circle cx="444" cy="301" r="5.4" fill="#5d8449" stroke="#41613a" stroke-width="0.6"/>
<circle cx="440" cy="307" r="5.4" fill="#5d8449" stroke="#41613a" stroke-width="0.6"/>
<circle cx="707" cy="219" r="5" fill="#5d8449" stroke="#41613a" stroke-width="0.6"/>
<circle cx="701" cy="231" r="5" fill="#5d8449" stroke="#41613a" stroke-width="0.6"/>
<circle cx="694" cy="244" r="5" fill="#5d8449" stroke="#41613a" stroke-width="0.6"/>
<circle cx="687" cy="256" r="5" fill="#5d8449" stroke="#41613a" stroke-width="0.6"/>
<circle cx="681" cy="268" r="5" fill="#5d8449" stroke="#41613a" stroke-width="0.6"/>
<circle cx="676" cy="280" r="5" fill="#5d8449" stroke="#41613a" stroke-width="0.6"/>
<circle cx="672" cy="292" r="5" fill="#5d8449" stroke="#41613a" stroke-width="0.6"/>
<circle cx="669" cy="303" r="5" fill="#5d8449" stroke="#41613a" stroke-width="0.6"/>
<circle cx="667" cy="313" r="5" fill="#5d8449" stroke="#41613a" stroke-width="0.6"/>
<circle cx="316" cy="214" r="4.2" fill="#5a9448" stroke="#3f6a34" stroke-width="0.6"/>
<circle cx="312" cy="226" r="4.2" fill="#5a9448" stroke="#3f6a34" stroke-width="0.6"/>
<circle cx="330" cy="210" r="4.2" fill="#5a9448" stroke="#3f6a34" stroke-width="0.6"/>
<circle cx="404" cy="250" r="4.2" fill="#5a9448" stroke="#3f6a34" stroke-width="0.6"/>
<circle cx="420" cy="256" r="4.2" fill="#5a9448" stroke="#3f6a34" stroke-width="0.6"/>
<circle cx="372" cy="213" r="4.2" fill="#5a9448" stroke="#3f6a34" stroke-width="0.6"/>
<circle cx="440" cy="223" r="4.2" fill="#5a9448" stroke="#3f6a34" stroke-width="0.6"/>
<circle cx="452" cy="258" r="4.2" fill="#5a9448" stroke="#3f6a34" stroke-width="0.6"/>
<circle cx="490" cy="262" r="4.2" fill="#5a9448" stroke="#3f6a34" stroke-width="0.6"/>
<circle cx="500" cy="270" r="4.2" fill="#5a9448" stroke="#3f6a34" stroke-width="0.6"/>
<circle cx="520" cy="262" r="4.2" fill="#5a9448" stroke="#3f6a34" stroke-width="0.6"/>
<circle cx="530" cy="268" r="4.2" fill="#5a9448" stroke="#3f6a34" stroke-width="0.6"/>
<circle cx="556" cy="268" r="4.2" fill="#5a9448" stroke="#3f6a34" stroke-width="0.6"/>
<circle cx="560" cy="275" r="4.2" fill="#5a9448" stroke="#3f6a34" stroke-width="0.6"/>
<circle cx="585" cy="272" r="4.2" fill="#5a9448" stroke="#3f6a34" stroke-width="0.6"/>
<circle cx="600" cy="260" r="4.2" fill="#5a9448" stroke="#3f6a34" stroke-width="0.6"/>
<circle cx="636" cy="268" r="4.2" fill="#5a9448" stroke="#3f6a34" stroke-width="0.6"/>
<circle cx="648" cy="262" r="4.2" fill="#5a9448" stroke="#3f6a34" stroke-width="0.6"/>
<circle cx="680" cy="254" r="4.2" fill="#5a9448" stroke="#3f6a34" stroke-width="0.6"/>
<circle cx="694" cy="300" r="4.2" fill="#5a9448" stroke="#3f6a34" stroke-width="0.6"/>
<circle cx="734" cy="300" r="4.2" fill="#5a9448" stroke="#3f6a34" stroke-width="0.6"/>
<circle cx="728" cy="290" r="4.2" fill="#5a9448" stroke="#3f6a34" stroke-width="0.6"/>
<circle cx="735" cy="330" r="4.2" fill="#5a9448" stroke="#3f6a34" stroke-width="0.6"/>
<circle cx="740" cy="345" r="4.2" fill="#5a9448" stroke="#3f6a34" stroke-width="0.6"/>
<circle cx="728" cy="320" r="4.2" fill="#5a9448" stroke="#3f6a34" stroke-width="0.6"/>
<circle cx="702" cy="322" r="4.2" fill="#5a9448" stroke="#3f6a34" stroke-width="0.6"/>
<circle cx="716" cy="340" r="4.2" fill="#5a9448" stroke="#3f6a34" stroke-width="0.6"/>
<circle cx="790" cy="340" r="4.2" fill="#5a9448" stroke="#3f6a34" stroke-width="0.6"/>
<circle cx="760" cy="300" r="4.2" fill="#5a9448" stroke="#3f6a34" stroke-width="0.6"/>
<circle cx="762" cy="276" r="4.2" fill="#5a9448" stroke="#3f6a34" stroke-width="0.6"/>
<circle cx="731" cy="242" r="4.2" fill="#5a9448" stroke="#3f6a34" stroke-width="0.6"/>
<circle cx="750" cy="265" r="4.2" fill="#5a9448" stroke="#3f6a34" stroke-width="0.6"/>
<circle cx="331" cy="252" r="9.5" fill="#84c64c" stroke="#4e9a2e" stroke-width="0.9"/><circle cx="329.1" cy="249.6" r="4.8" fill="#a3d86c" opacity="0.5"/>
<circle cx="533.0" cy="285.5" r="3.3" fill="#9fd8ba" stroke="#3d8a62" stroke-width="0.8"/>
<circle cx="539.3" cy="285.3" r="3.3" fill="#9fd8ba" stroke="#3d8a62" stroke-width="0.8"/>
<circle cx="545.7" cy="285.1" r="3.3" fill="#9fd8ba" stroke="#3d8a62" stroke-width="0.8"/>
<circle cx="552.0" cy="284.9" r="3.3" fill="#9fd8ba" stroke="#3d8a62" stroke-width="0.8"/>
<circle cx="558.3" cy="284.7" r="3.3" fill="#9fd8ba" stroke="#3d8a62" stroke-width="0.8"/>
<circle cx="564.7" cy="284.5" r="3.3" fill="#9fd8ba" stroke="#3d8a62" stroke-width="0.8"/>
<circle cx="571.0" cy="284.3" r="3.3" fill="#9fd8ba" stroke="#3d8a62" stroke-width="0.8"/>
<circle cx="577.3" cy="284.1" r="3.3" fill="#9fd8ba" stroke="#3d8a62" stroke-width="0.8"/>
<circle cx="583.7" cy="283.9" r="3.3" fill="#9fd8ba" stroke="#3d8a62" stroke-width="0.8"/>
<circle cx="590.0" cy="283.8" r="3.3" fill="#9fd8ba" stroke="#3d8a62" stroke-width="0.8"/>
<circle cx="596.3" cy="283.6" r="3.3" fill="#9fd8ba" stroke="#3d8a62" stroke-width="0.8"/>
<circle cx="602.7" cy="283.4" r="3.3" fill="#9fd8ba" stroke="#3d8a62" stroke-width="0.8"/>
<circle cx="609.0" cy="283.2" r="3.3" fill="#9fd8ba" stroke="#3d8a62" stroke-width="0.8"/>
<circle cx="615.3" cy="283.0" r="3.3" fill="#9fd8ba" stroke="#3d8a62" stroke-width="0.8"/>
<circle cx="621.7" cy="282.8" r="3.3" fill="#9fd8ba" stroke="#3d8a62" stroke-width="0.8"/>
<circle cx="628.0" cy="282.6" r="3.3" fill="#9fd8ba" stroke="#3d8a62" stroke-width="0.8"/>
<circle cx="634.3" cy="282.4" r="3.3" fill="#9fd8ba" stroke="#3d8a62" stroke-width="0.8"/>
<circle cx="640.7" cy="282.2" r="3.3" fill="#9fd8ba" stroke="#3d8a62" stroke-width="0.8"/>
<circle cx="372" cy="247.8" r="6.5" fill="#5b8a48" stroke="#3f6a34" stroke-width="0.6"/>
<circle cx="314.4" cy="204.6" r="6.5" fill="#5b8a48" stroke="#3f6a34" stroke-width="0.6"/>
<circle cx="332" cy="211" r="6.5" fill="#5b8a48" stroke="#3f6a34" stroke-width="0.6"/>
<circle cx="330.4" cy="227" r="6.5" fill="#5b8a48" stroke="#3f6a34" stroke-width="0.6"/>
<circle cx="405.6" cy="255" r="8.5" fill="#5b8a48" stroke="#3f6a34" stroke-width="0.6"/>
<circle cx="448.8" cy="260.6" r="8" fill="#5b8a48" stroke="#3f6a34" stroke-width="0.6"/>
<circle cx="528" cy="262" r="8" fill="#5b8a48" stroke="#3f6a34" stroke-width="0.6"/>
<circle cx="593" cy="270" r="8" fill="#5b8a48" stroke="#3f6a34" stroke-width="0.6"/>
<circle cx="648" cy="258" r="8" fill="#5b8a48" stroke="#3f6a34" stroke-width="0.6"/>
<circle cx="389.6" cy="226.2" r="6" fill="#6f9860" stroke="#557a48" stroke-width="0.6"/>
<circle cx="465" cy="237" r="6" fill="#6f9860" stroke="#557a48" stroke-width="0.6"/>
<circle cx="540" cy="241" r="6" fill="#6f9860" stroke="#557a48" stroke-width="0.6"/>
<circle cx="620" cy="253" r="6" fill="#6f9860" stroke="#557a48" stroke-width="0.6"/>
<circle cx="746" cy="279" r="6" fill="#6f9860" stroke="#557a48" stroke-width="0.6"/>
<circle cx="654" cy="283" r="9" fill="#84c64c" stroke="#4e9a2e" stroke-width="0.9"/><circle cx="652.2" cy="280.8" r="4.5" fill="#a3d86c" opacity="0.5"/>
<circle cx="655" cy="302" r="9" fill="#84c64c" stroke="#4e9a2e" stroke-width="0.9"/><circle cx="653.2" cy="299.8" r="4.5" fill="#a3d86c" opacity="0.5"/>
<circle cx="714" cy="193" r="6.8" fill="#8ccb55" stroke="#539c34" stroke-width="0.9"/><circle cx="712.6" cy="191.3" r="3.4" fill="#a3d86c" opacity="0.5"/>
<circle cx="728" cy="190" r="6.8" fill="#8ccb55" stroke="#539c34" stroke-width="0.9"/><circle cx="726.6" cy="188.3" r="3.4" fill="#a3d86c" opacity="0.5"/>
<circle cx="742" cy="190" r="6.8" fill="#8ccb55" stroke="#539c34" stroke-width="0.9"/><circle cx="740.6" cy="188.3" r="3.4" fill="#a3d86c" opacity="0.5"/>
<circle cx="715" cy="212" r="6.8" fill="#8ccb55" stroke="#539c34" stroke-width="0.9"/><circle cx="713.6" cy="210.3" r="3.4" fill="#a3d86c" opacity="0.5"/>
<circle cx="730" cy="213" r="6.8" fill="#8ccb55" stroke="#539c34" stroke-width="0.9"/><circle cx="728.6" cy="211.3" r="3.4" fill="#a3d86c" opacity="0.5"/>
<circle cx="744" cy="211" r="6.8" fill="#8ccb55" stroke="#539c34" stroke-width="0.9"/><circle cx="742.6" cy="209.3" r="3.4" fill="#a3d86c" opacity="0.5"/>
<circle cx="731" cy="343" r="6.8" fill="#8ccb55" stroke="#539c34" stroke-width="0.9"/><circle cx="729.6" cy="341.3" r="3.4" fill="#a3d86c" opacity="0.5"/>
<circle cx="205.6" cy="184" r="5.4" fill="#fff" stroke="#777" stroke-width="0.5"/><text x="205.6" y="186.38" font-size="6.6" font-weight="bold" text-anchor="middle" fill="#111">14</text>
<circle cx="265.5" cy="174" r="5.4" fill="#fff" stroke="#777" stroke-width="0.5"/><text x="265.5" y="176.38" font-size="6.6" font-weight="bold" text-anchor="middle" fill="#111">15</text>
<circle cx="246.6" cy="226.4" r="5.4" fill="#fff" stroke="#777" stroke-width="0.5"/><text x="246.6" y="228.78" font-size="6.6" font-weight="bold" text-anchor="middle" fill="#111">14</text>
<circle cx="284.7" cy="292.3" r="5.4" fill="#fff" stroke="#777" stroke-width="0.5"/><text x="284.7" y="294.68" font-size="6.6" font-weight="bold" text-anchor="middle" fill="#111">14</text>
<text x="195" y="249.4" font-size="7" font-weight="bold" text-anchor="middle" fill="#111">16</text>
<circle cx="322.8" cy="220.5" r="3.4" fill="#fafafa" stroke="#9a9a9a" stroke-width="0.4"/><text x="322.8" y="221.80" font-size="3.6" text-anchor="middle" fill="#333">4</text>
<circle cx="393.3" cy="238.3" r="3.4" fill="#fafafa" stroke="#9a9a9a" stroke-width="0.4"/><text x="393.3" y="239.60" font-size="3.6" text-anchor="middle" fill="#333">5</text>
<circle cx="465.6" cy="234" r="3.4" fill="#fafafa" stroke="#9a9a9a" stroke-width="0.4"/><text x="465.6" y="235.30" font-size="3.6" text-anchor="middle" fill="#333">5</text>
<circle cx="509" cy="175.6" r="3.4" fill="#fafafa" stroke="#9a9a9a" stroke-width="0.4"/><text x="509" y="176.90" font-size="3.6" text-anchor="middle" fill="#333">2</text>
<circle cx="543.6" cy="251" r="3.4" fill="#fafafa" stroke="#9a9a9a" stroke-width="0.4"/><text x="543.6" y="252.30" font-size="3.6" text-anchor="middle" fill="#333">5</text>
<circle cx="617.4" cy="243.6" r="3.4" fill="#fafafa" stroke="#9a9a9a" stroke-width="0.4"/><text x="617.4" y="244.90" font-size="3.6" text-anchor="middle" fill="#333">5</text>
<circle cx="572" cy="271" r="3.4" fill="#fafafa" stroke="#9a9a9a" stroke-width="0.4"/><text x="572" y="272.30" font-size="3.6" text-anchor="middle" fill="#333">4</text>
<circle cx="681" cy="238.4" r="3.4" fill="#fafafa" stroke="#9a9a9a" stroke-width="0.4"/><text x="681" y="239.70" font-size="3.6" text-anchor="middle" fill="#333">4</text>
<circle cx="667" cy="269.6" r="3.4" fill="#fafafa" stroke="#9a9a9a" stroke-width="0.4"/><text x="667" y="270.90" font-size="3.6" text-anchor="middle" fill="#333">8</text>
<circle cx="692" cy="279.6" r="3.4" fill="#fafafa" stroke="#9a9a9a" stroke-width="0.4"/><text x="692" y="280.90" font-size="3.6" text-anchor="middle" fill="#333">6</text>
<circle cx="716" cy="266" r="3.4" fill="#fafafa" stroke="#9a9a9a" stroke-width="0.4"/><text x="716" y="267.30" font-size="3.6" text-anchor="middle" fill="#333">9</text>
<circle cx="711.5" cy="306" r="3.4" fill="#fafafa" stroke="#9a9a9a" stroke-width="0.4"/><text x="711.5" y="307.30" font-size="3.6" text-anchor="middle" fill="#333">7</text>
<circle cx="593" cy="301" r="3.4" fill="#fafafa" stroke="#9a9a9a" stroke-width="0.4"/><text x="593" y="302.30" font-size="3.6" text-anchor="middle" fill="#333">11</text>
<circle cx="736.6" cy="277.4" r="3.4" fill="#fafafa" stroke="#9a9a9a" stroke-width="0.4"/><text x="736.6" y="278.70" font-size="3.6" text-anchor="middle" fill="#333">5</text>
<circle cx="719" cy="203" r="3.4" fill="#fafafa" stroke="#9a9a9a" stroke-width="0.4"/><text x="719" y="204.30" font-size="3.6" text-anchor="middle" fill="#333">3</text>
<circle cx="743.4" cy="345" r="3.4" fill="#fafafa" stroke="#9a9a9a" stroke-width="0.4"/><text x="743.4" y="346.30" font-size="3.6" text-anchor="middle" fill="#333">4</text>
<circle cx="809" cy="314.8" r="3.4" fill="#fafafa" stroke="#9a9a9a" stroke-width="0.4"/><text x="809" y="316.10" font-size="3.6" text-anchor="middle" fill="#333">2</text>
<circle cx="790.7" cy="387" r="3.4" fill="#fafafa" stroke="#9a9a9a" stroke-width="0.4"/><text x="790.7" y="388.30" font-size="3.6" text-anchor="middle" fill="#333">1</text>
<circle cx="460" cy="270.4" r="3.4" fill="#fafafa" stroke="#9a9a9a" stroke-width="0.4"/><text x="460" y="271.70" font-size="3.6" text-anchor="middle" fill="#333">8</text>
<circle cx="477.6" cy="295" r="3.4" fill="#fafafa" stroke="#9a9a9a" stroke-width="0.4"/><text x="477.6" y="296.30" font-size="3.6" text-anchor="middle" fill="#333">10</text>
<circle cx="529" cy="296" r="3.4" fill="#fafafa" stroke="#9a9a9a" stroke-width="0.4"/><text x="529" y="297.30" font-size="3.6" text-anchor="middle" fill="#333">12</text>
<circle cx="773" cy="239.6" r="6.2" fill="#fff" stroke="#777" stroke-width="0.5"/><text x="773" y="242.34" font-size="7.6" font-weight="bold" text-anchor="middle" fill="#111">T2</text>
<circle cx="780.8" cy="313.4" r="6.2" fill="#fff" stroke="#777" stroke-width="0.5"/><text x="780.8" y="316.14" font-size="7.6" font-weight="bold" text-anchor="middle" fill="#111">T1</text>
</g>

<!-- lower area -->
<g id="lower">
<rect x="366" y="405" width="103.5" height="71" fill="#e4edd8" stroke="#9ea592" stroke-width="1.3"/>
<text x="416.1" y="415" text-anchor="middle" font-size="8.3" fill="#3f3f3f" textLength="58.2" lengthAdjust="spacingAndGlyphs">TENNIS COURTS</text>
<rect x="372.6" y="419.8" width="22.2" height="44.4" fill="#d2e3bb" stroke="#8f9c80" stroke-width="1"/>
<rect x="405.6" y="418.6" width="22.2" height="44.4" fill="#d2e3bb" stroke="#8f9c80" stroke-width="1"/>
<rect x="438.6" y="417.4" width="22.2" height="45" fill="#d2e3bb" stroke="#8f9c80" stroke-width="1"/>
<ellipse cx="467" cy="561" rx="75" ry="79.5" fill="#c6e0b3" stroke="#7f9a70" stroke-width="1"/>
<text x="469.8" y="565.4" text-anchor="middle" font-size="9.4" fill="#4a4a4a" textLength="32" lengthAdjust="spacingAndGlyphs">CRICKET</text>
<text x="470.3" y="574.7" text-anchor="middle" font-size="9.4" fill="#4a4a4a" textLength="33.4" lengthAdjust="spacingAndGlyphs">GROUND</text>
<path fill="#f2efe6" stroke="#aca69c" stroke-width="1.1" d="M564,424 L753,424 L753,645 L671,645 L671,609 L694.5,609 L694.5,582 L570,582 L570,541 L694.5,541 L694.5,519 L564,519 L564,481 L694.5,481 L694.5,465 L564,465 Z"/>
<path fill="none" stroke="#aaa49a" stroke-width="1" d="M576,645 L576,625 L622,625 L622,645"/>
<line x1="753" y1="589" x2="854.6" y2="585" stroke="#9a9a9a" stroke-width="0.8"/>
<line x1="753" y1="400" x2="753" y2="424" stroke="#9a9a9a" stroke-width="0.8"/>
<text x="644.8" y="501" text-anchor="middle" font-size="9.4" fill="#4a4a4a" textLength="43.5" lengthAdjust="spacingAndGlyphs">BLUE RIDGE</text>
<text x="644.9" y="510.2" text-anchor="middle" font-size="9.4" fill="#4a4a4a" textLength="30.8" lengthAdjust="spacingAndGlyphs">SCHOOL</text>
</g>

<!-- road labels -->
<text x="468" y="388.2" font-size="8.9" font-weight="bold" fill="#2b2b2b" textLength="62.4" lengthAdjust="spacingAndGlyphs" xml:space="preserve">12 M WIDE  ROAD</text>
<text transform="translate(855,366) rotate(90)" font-size="8.2" fill="#2b2b2b" textLength="67" lengthAdjust="spacingAndGlyphs">24 M WIDE ROAD</text>

<!-- north arrow -->
<g stroke="#505050" fill="none">
<circle cx="896.7" cy="687.1" r="16" stroke-width="1"/>
<line x1="880.7" y1="687.1" x2="912.7" y2="687.1" stroke-width="0.9"/>
<line x1="896.7" y1="671" x2="896.7" y2="687.1" stroke-width="1.7" stroke="#303030"/>
<line x1="896.7" y1="687.1" x2="896.7" y2="703.1" stroke-width="0.9"/>
</g>
<text x="896.8" y="667.8" text-anchor="middle" font-size="9.8" fill="#222" stroke="#222" stroke-width="0.35">N</text>

<g font-size="8.3" font-weight="bold" fill="#262626">
<text x="94" y="409.45">LEGEND</text>
<text x="100.9" y="423.31" text-anchor="end">1.</text>
<text x="102.8" y="423.31">ENTRANCE</text>
<text x="100.9" y="437.17" text-anchor="end">2.</text>
<text x="102.8" y="437.17">DRIVEWAY</text>
<text x="100.9" y="451.03" text-anchor="end">3.</text>
<text x="102.8" y="451.03">TEMPLE</text>
<text x="100.9" y="464.89" text-anchor="end">4.</text>
<text x="102.8" y="464.89">SEATING POCKETS</text>
<text x="100.9" y="478.75" text-anchor="end">5.</text>
<text x="102.8" y="478.75">WORK SPACES (OUTDOOR)</text>
<text x="100.9" y="492.61" text-anchor="end">6.</text>
<text x="102.8" y="492.61">SWIMMING POOL</text>
<text x="100.9" y="506.47" text-anchor="end">7.</text>
<text x="102.8" y="506.47">KIDS' POOL</text>
<text x="100.9" y="520.33" text-anchor="end">8.</text>
<text x="102.8" y="520.33">WALKWAY</text>
<text x="100.9" y="534.19" text-anchor="end">9.</text>
<text x="102.8" y="534.19">POOL DECK</text>
<text x="100.9" y="548.05" text-anchor="end">10.</text>
<text x="102.8" y="548.05">CHILDREN'S PLAY VILLAGE</text>
<text x="100.9" y="561.91" text-anchor="end">11.</text>
<text x="102.8" y="561.91">MULTI-PURPOSE LAWN</text>
<text x="100.9" y="575.77" text-anchor="end">12.</text>
<text x="102.8" y="575.77">ELEVATED DECK WITH SWINGS BELOW</text>
<text x="100.9" y="589.63" text-anchor="end">13.</text>
<text x="102.8" y="589.63">PET PARK</text>
<text x="100.9" y="603.49" text-anchor="end">14.</text>
<text x="102.8" y="603.49">SKY SPORTS CLUB (E) - BADMINTON COURTS (INDOOR)</text>
<text x="102.8" y="617.35">CRICKET NETS, FOOTBALL COURT &amp;</text>
<text x="102.8" y="631.21">BASKETBALL COURT</text>
<text x="100.9" y="645.07" text-anchor="end">15.</text>
<text x="102.8" y="645.07">CLUB INFINITY (BELOW)</text>
<text x="100.9" y="658.93" text-anchor="end">16.</text>
<text x="102.8" y="658.93">PARKING (BELOW)</text>
<text x="89.6" y="700.0">E -- ELEVATED</text>
</g>
</svg>


</body></html>
